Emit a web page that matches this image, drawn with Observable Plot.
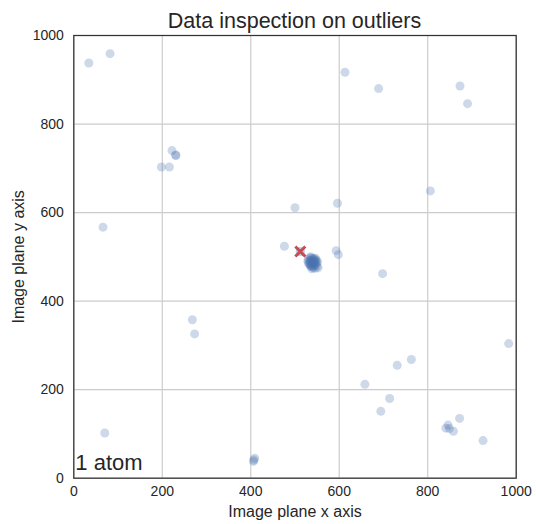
<!DOCTYPE html>
<html>
<head>
<meta charset="utf-8">
<script src="https://cdn.jsdelivr.net/npm/d3@7"></script>
<script src="https://cdn.jsdelivr.net/npm/@observablehq/plot@0.6"></script>
<style>
  body { margin: 0; background: white; }
  #wrap { position: relative; width: 536px; height: 524px; }
  #title { position: absolute; left: 0; top: 11px; width: 589px; text-align: center;
           font: 21.5px/21.5px "Liberation Sans", Arial, sans-serif; color: #262626; }
</style>
</head>
<body>
<div id="wrap"><div id="title">Data inspection on outliers</div></div>
<script>
const titleText = "Data inspection on outliers";
const xLabel = "Image plane x axis";
const yLabel = "Image plane y axis";
const annotation = "1 atom";
const tickValues = [0, 200, 400, 600, 800, 1000];

// scattered detections (x, y)
const pointX = [34, 82, 613, 689, 873, 890, 222, 230, 231, 198, 216, 66, 806, 596, 500, 476, 593, 598, 698,
  268, 273, 983, 763, 731, 658, 714, 694, 872, 846, 841, 849, 858, 925, 70, 409, 406, 407];
const pointY = [938, 959, 917, 880, 886, 846, 740, 730, 729, 703, 703, 567, 649, 621, 611, 524, 514, 505, 462,
  358, 326, 304, 268, 255, 212, 180, 151, 135, 120, 113, 112, 106, 85, 102, 45, 38, 41];

// dense cluster
const clusterX = [530, 533, 536, 538, 540, 542, 535, 532, 539, 544, 546, 543, 537, 541, 547, 549, 534, 545, 550,
  529, 536, 541, 548, 552, 539, 534, 544, 540, 531, 546, 538, 551, 535, 543];
const clusterY = [494, 498, 490, 496, 488, 493, 485, 487, 481, 485, 490, 480, 478, 476, 483, 487, 482, 474, 479,
  490, 500, 497, 493, 475, 491, 492, 494, 485, 484, 497, 473, 489, 479, 488];

// reference (outlier) position
const refX = [512];
const refY = [512];

const points = pointX.map((x, i) => ({x, y: pointY[i]}))
  .concat(clusterX.map((x, i) => ({x, y: clusterY[i]})));
const refs = refX.map((x, i) => ({x, y: refY[i]}));

const plot = Plot.plot({
  width: 536,
  height: 524,
  marginTop: 35,
  marginBottom: 46.3,
  marginLeft: 73.3,
  marginRight: 20.3,
  style: {fontFamily: "'Liberation Sans', Arial, sans-serif", color: "#262626", background: "white", overflow: "visible"},
  x: {domain: [0, 1000]},
  y: {domain: [0, 1000]},
  marks: [
    Plot.gridX(tickValues, {stroke: "#cccccc", strokeOpacity: 1, strokeWidth: 1.2}),
    Plot.gridY(tickValues, {stroke: "#cccccc", strokeOpacity: 1, strokeWidth: 1.2}),
    Plot.axisX(tickValues, {tickSize: 0, tickPadding: 8, fontSize: 14, label: xLabel, labelAnchor: "center",
      labelArrow: "none", labelOffset: 39, tickFormat: d => String(d)}),
    Plot.axisY(tickValues, {tickSize: 0, tickPadding: 10, fontSize: 14, label: yLabel, labelAnchor: "center",
      labelArrow: "none", labelOffset: 61.5, tickFormat: d => String(d)}),
    Plot.dot(points, {x: "x", y: "y", r: 4.5, fill: "#4c72b0", fillOpacity: 0.28, stroke: "none"}),
    Plot.dot(refs, {x: "x", y: "y", symbol: "square", r: 5, fill: "#4c72b0", fillOpacity: 0.35, stroke: "none"}),
    Plot.dot(refs, {x: "x", y: "y", symbol: "times", r: 4.6, stroke: "#c44e52", strokeWidth: 3}),
    Plot.text([annotation], {text: d => d, frameAnchor: "bottom-left", textAnchor: "start", lineAnchor: "bottom",
      dx: 1.5, dy: -8.4, fontSize: 22, fill: "#262626"}),
    Plot.frame({stroke: "#333333", strokeWidth: 1.25})
  ]
});
plot.querySelectorAll("g[aria-label='x-axis label'] text, g[aria-label='y-axis label'] text").forEach(t => t.setAttribute("font-size", 16));
document.getElementById("wrap").prepend(plot);
document.getElementById("title").textContent = titleText;
</script>
</body>
</html>
